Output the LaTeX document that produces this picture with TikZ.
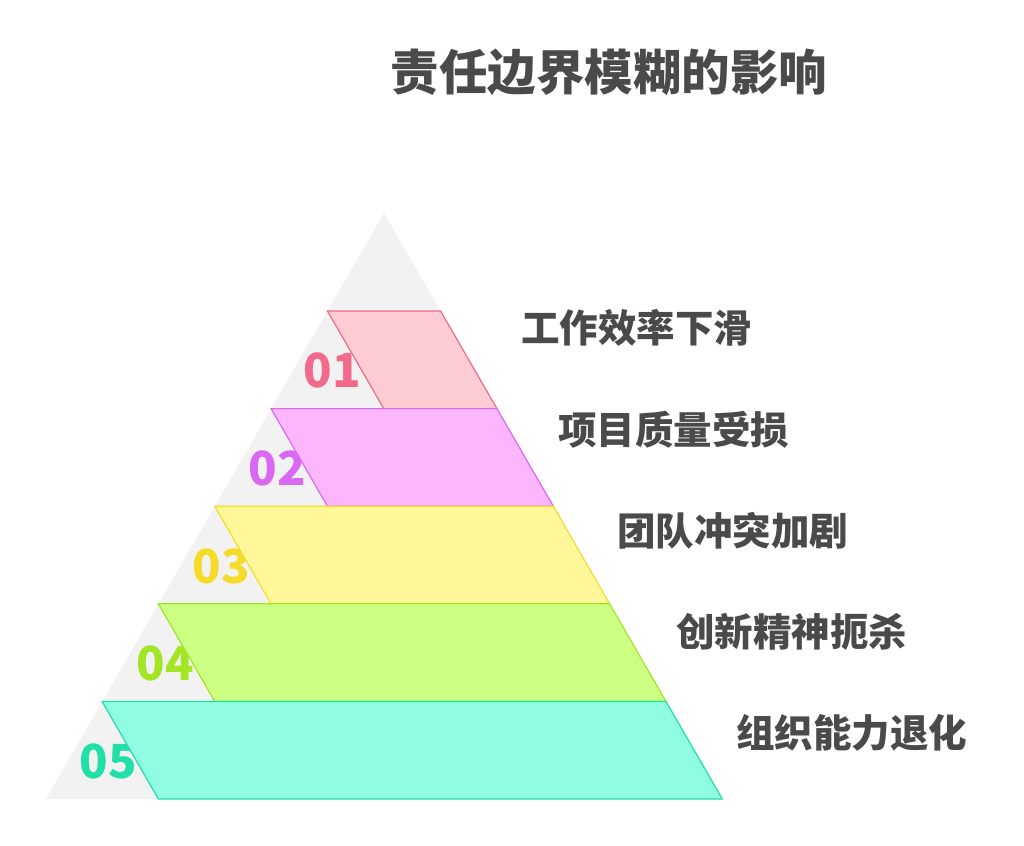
\documentclass[tikz,border=0pt]{standalone}
\usepackage{fontspec}
\newfontfamily\cjk{Noto Sans CJK SC}
\definecolor{tri}{HTML}{F2F2F2}
\definecolor{txt}{HTML}{4A4A4A}
\definecolor{fA}{HTML}{FDCDD3}\definecolor{dA}{HTML}{F2698A}
\definecolor{fB}{HTML}{FBB6FD}\definecolor{dB}{HTML}{D968F2}
\definecolor{fC}{HTML}{FFF799}\definecolor{dC}{HTML}{F5DC2A}
\definecolor{fD}{HTML}{CCFF82}\definecolor{dD}{HTML}{A3E625}
\definecolor{fE}{HTML}{90FCE2}\definecolor{dE}{HTML}{22DFA8}
\tikzset{
  num/.style={font=\cjk\bfseries\fontsize{47}{47}\selectfont, inner sep=0pt, anchor=center},
  lab/.style={font=\cjk\bfseries\fontsize{38.5}{38.5}\selectfont, text=txt, inner sep=0pt, anchor=west},
  band/.style={line width=1.2pt, line join=miter},
}
\begin{document}
\begin{tikzpicture}[x=1pt,y=-1pt]
\useasboundingbox (0,0) rectangle (1024,845);
\fill[white] (0,0) rectangle (1024,845);
% triangle
\coordinate (apex) at (384,213);
\coordinate (bl) at (46,799);
\coordinate (br) at (722,799);
\fill[tri] (apex) -- (br) -- (bl) -- cycle;
\node[font=\cjk\bfseries\fontsize{48.5}{48.5}\selectfont, text=txt, inner sep=0pt] (title) at (609,72) {责任边界模糊的影响};
% numbers
\node[num, text=dA] (n1) at (332,370) {01};
\node[num, text=dB] (n2) at (277,468) {02};
\node[num, text=dC] (n3) at (221,566) {03};
\node[num, text=dD] (n4) at (165,663) {04};
\node[num, text=dE] (n5) at (108,761) {05};
% bands
\def\s{0.57735}
\foreach \yt/\yb/\f/\d in {311/408.6/fA/dA, 408.6/506.2/fB/dB, 506.2/603.8/fC/dC, 603.8/701.4/fD/dD, 701.4/799/fE/dE}{
  \pgfmathsetmacro{\xl}{384-(\yt-213)*\s}
  \pgfmathsetmacro{\xr}{384+(\yt-213)*\s}
  \pgfmathsetmacro{\xbr}{384+(\yb-213)*\s}
  \pgfmathsetmacro{\xbl}{\xl+(\yb-\yt)*\s}
  \filldraw[band, fill=\f, draw=\d] (\xl,\yt) -- (\xr,\yt) -- (\xbr,\yb) -- (\xbl,\yb) -- cycle;
}
% labels
\node[lab] (l1) at (521,328) {工作效率下滑};
\node[lab] (l2) at (558,430) {项目质量受损};
\node[lab] (l3) at (617,531) {团队冲突加剧};
\node[lab] (l4) at (676,632) {创新精神扼杀};
\node[lab] (l5) at (736,733) {组织能力退化};
\end{tikzpicture}
\end{document}
